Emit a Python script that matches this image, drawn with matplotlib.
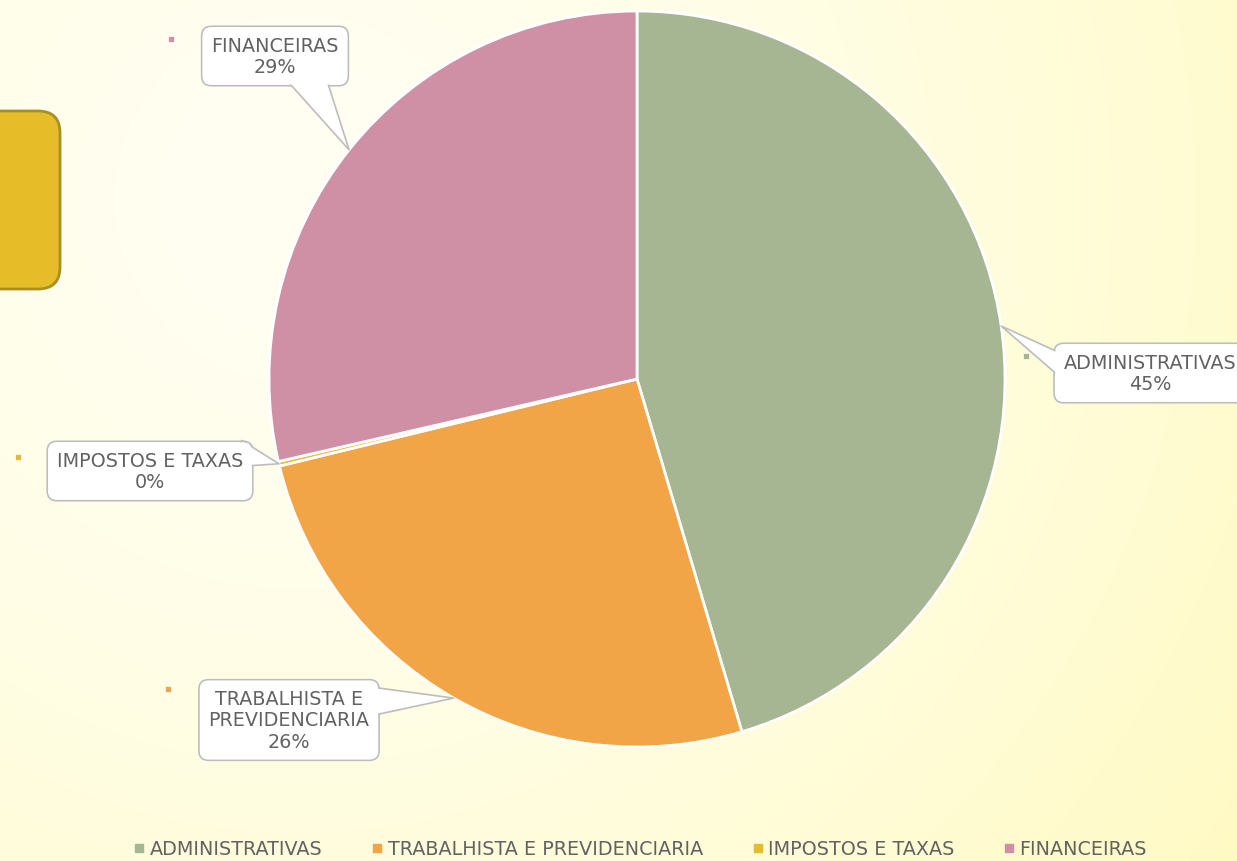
import textwrap
import numpy as np
import matplotlib
matplotlib.use("Agg")
import matplotlib.pyplot as plt
from matplotlib.lines import Line2D
from matplotlib.patches import FancyBboxPatch

# data
categories = ["ADMINISTRATIVAS", "TRABALHISTA E PREVIDENCIARIA", "IMPOSTOS E TAXAS", "FINANCEIRAS"]
shares = [45.4, 25.8, 0.2, 28.6]
colors = ["#A6B592", "#F2A546", "#E5BC2A", "#CF90A5"]

# label boxes (pixel centres, y from top), pointer anchor on the box, pointer width, key square
label_pos = [(1150, 374), (289, 721), (150, 472), (275, 57)]
anchor_pos = [(1054, 361), (379, 702), (252, 458), (312, 86)]
edge_w = [18, 26, 18, 32]
key_pos = [(1026, 357), (168, 690), (18, 458), (171, 40)]

W, H = 1237, 862
plt.rcParams['font.family'] = ['DejaVu Sans']
txt_color = "#626262"
fs = 13.8

fig = plt.figure(figsize=(W / 100, H / 100), dpi=100)
ax = fig.add_axes([0, 0, 1, 1])

# background gradient
yy, xx = np.mgrid[0:H, 0:W]
r = np.hypot(xx - 300, yy - 200) / 1140.0
r = np.clip(r, 0, 1) ** 1.5
c0 = np.array([255, 255, 242]) / 255
c1 = np.array([255, 250, 196]) / 255
bg = c0[None, None, :] * (1 - r[..., None]) + c1[None, None, :] * r[..., None]
ax.imshow(bg, extent=(0, W, 0, H), origin="upper", zorder=0, aspect="auto")

# decorative tab on the left
tab = FancyBboxPatch((-60, H - 290), 120, 178, boxstyle="round,pad=0,rounding_size=22",
                     fc="#E6BC29", ec="#A88F24", lw=2, zorder=1)
ax.add_patch(tab)

cx, cy, rad = 637, H - 380, 368
wedges, _ = ax.pie(shares, colors=colors, startangle=90, counterclock=False,
                   center=(cx, cy), radius=rad, frame=True,
                   wedgeprops=dict(edgecolor="white", linewidth=2))
for w in wedges:
    w.set_zorder(2)
ax.set_xlim(0, W)
ax.set_ylim(0, H)
ax.set_aspect("auto")
ax.axis("off")

kw = dict(ha="center", va="center", fontsize=fs, linespacing=1.15)
total = sum(shares)
inset = 14
for i, w in enumerate(wedges):
    lx, ly = label_pos[i]
    s = textwrap.fill(categories[i], 16) + "\n" + f"{shares[i] / total * 100:.0f}%"
    ax.text(lx, H - ly, s, color="none", zorder=3,
            bbox=dict(boxstyle="round,pad=0.5", fc="white", ec="#bdbdbd", lw=1.2), **kw)
    ax.text(lx, H - ly, s, color=txt_color, zorder=5,
            bbox=dict(boxstyle="round,pad=0.44", fc="white", ec="none"), **kw)
    kx, ky = key_pos[i]
    ax.plot(kx, H - ky, marker="s", ms=5, color=colors[i], mec="white", mew=0.5, zorder=5)

    # callout pointer from the box to the middle of the slice's arc
    mid = np.deg2rad((w.theta1 + w.theta2) / 2)
    tip = np.array([cx + rad * np.cos(mid), cy + rad * np.sin(mid)])
    a = np.array([anchor_pos[i][0], H - anchor_pos[i][1]], float)
    d = tip - a
    L = np.hypot(*d)
    start = a - d / L * inset
    width_px = edge_w[i] * (L + inset) / L
    ax.annotate("", xy=tip, xytext=start, zorder=4,
                arrowprops=dict(arrowstyle=f"wedge,tail_width={width_px * 0.72},shrink_factor=0.5",
                                mutation_scale=1, fc="white", ec="#bdbdbd", lw=1.2,
                                shrinkA=0, shrinkB=0))

handles = [Line2D([], [], marker="s", ls="", ms=5.5, color=c) for c in colors]
leg = fig.legend(handles, categories, loc="center", bbox_to_anchor=(0.518, 12 / H), ncol=4,
                 frameon=False, fontsize=fs, handlelength=0.5, handletextpad=0.3,
                 columnspacing=2.6)
for t in leg.get_texts():
    t.set_color(txt_color)

fig.savefig("out.png", dpi=100)
